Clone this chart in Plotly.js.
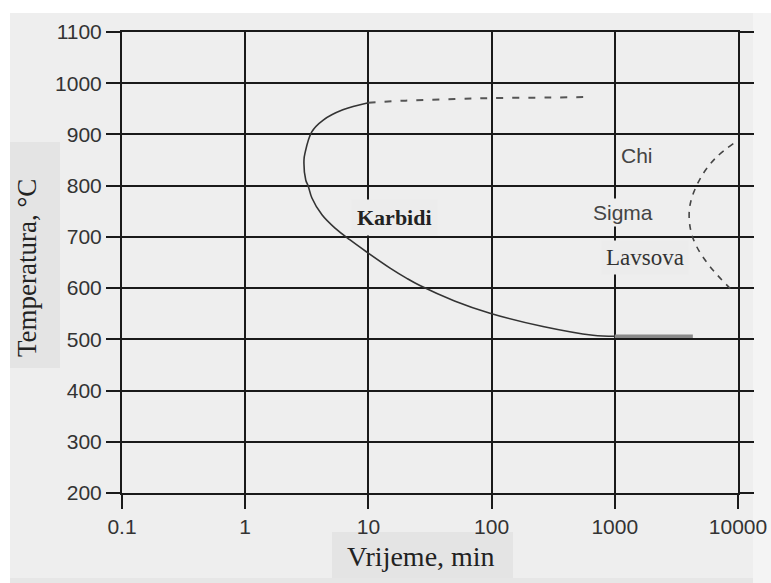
<!DOCTYPE html>
<html>
<head>
<meta charset="utf-8">
<script src="https://cdn.plot.ly/plotly-3.0.1.min.js"></script>
<style>html,body{margin:0;padding:0;background:#fff;}#chart{width:771px;height:583px;}</style>
</head>
<body>
<div id="chart"></div>
<script>
// ---- data ----
var xTickVals = [0.1, 1, 10, 100, 1000, 10000];
var xTickText = ['0.1', '1', '10', '100', '1000', '10000'];
var yTickVals = [200, 300, 400, 500, 600, 700, 800, 900, 1000, 1100];

// Carbide C-curve (solid part), time in min, temperature in °C
var carbideTime = [10, 6.2, 4.3, 3.47, 3.06, 3.0, 3.1, 3.24, 3.48, 4.2, 5.36, 7.1, 9.75, 15, 20.5, 26.2, 50, 97, 261, 665, 1000];
var carbideTemp = [962, 948, 928, 905, 864, 850, 811, 800, 776, 743, 717, 694, 670, 639, 619, 605, 575, 551, 525, 508, 506];

// Carbide upper limit (dashed)
var carbideUpperTime = [10, 20, 50, 100, 300, 600];
var carbideUpperTemp = [962, 966, 969, 971, 972, 973];

// Carbide lower limit (grey bar)
var carbideLowerTime = [1000, 4300];
var carbideLowerTemp = [506, 506];

// Intermetallic (Chi / Sigma / Laves) C-curve, dashed
var interTime = [9160, 6710, 5230, 4340, 4025, 4130, 4620, 5930, 9160];
var interTemp = [882, 856, 824, 785, 752, 713, 681, 642, 593];

// Labels
var labelText = ['Karbidi', 'Chi', 'Sigma', 'Lavsova'];
var labelTime = [16.4, 1510, 1170, 1760];
var labelTemp = [737, 858, 747, 659];

// ---- pixel helpers for layout placement (plot area 122..738 x, 32..493 y) ----
function px(x) { return (x - 122) / 616; }
function py(y) { return (493 - y) / 461; }

var traces = [
  {x: carbideTime, y: carbideTemp, mode: 'lines', line: {color: '#333', width: 1.6, shape: 'spline', smoothing: 1}, hoverinfo: 'skip'},
  {x: carbideUpperTime, y: carbideUpperTemp, mode: 'lines', line: {color: '#555', width: 2, dash: '7px,9px', shape: 'spline'}, hoverinfo: 'skip'},
  {x: carbideLowerTime, y: carbideLowerTemp, mode: 'lines', line: {color: '#8a8a8a', width: 3.5}, hoverinfo: 'skip'},
  {x: interTime, y: interTemp, mode: 'lines', line: {color: '#444', width: 1.6, dash: '6px,6px', shape: 'spline', smoothing: 1}, hoverinfo: 'skip'}
];

var serif = '"Liberation Serif", "Times New Roman", serif';
var sans = '"Liberation Sans", Arial, sans-serif';

var fonts = [
  {family: serif, size: 22, color: '#222', weight: 'bold'},
  {family: sans, size: 21, color: '#444'},
  {family: sans, size: 21, color: '#444'},
  {family: serif, size: 23, color: '#333'}
];
var bgs = ['#ececec', 'rgba(0,0,0,0)', '#eeeeee', '#ececec'];
var pads = [5, 0, 2, 4];

var annotations = labelText.map(function (t, i) {
  return {
    x: Math.log10(labelTime[i]), y: labelTemp[i], xref: 'x', yref: 'y',
    text: t, showarrow: false, font: fonts[i], bgcolor: bgs[i], borderpad: pads[i],
    xanchor: 'center', yanchor: 'middle'
  };
});

// axis titles
annotations.push({
  x: px(27), y: py(268), xref: 'paper', yref: 'paper', text: 'Temperatura, °C',
  textangle: -90, showarrow: false, font: {family: serif, size: 27, color: '#222'},
  xanchor: 'center', yanchor: 'middle'
});
annotations.push({
  x: px(421), y: py(556), xref: 'paper', yref: 'paper', text: 'Vrijeme, min',
  showarrow: false, font: {family: serif, size: 28, color: '#222'},
  xanchor: 'center', yanchor: 'middle'
});

var shapes = [
  // white strips of the scanned page
  {type: 'rect', xref: 'paper', yref: 'paper', x0: px(0), x1: px(771), y0: py(13), y1: py(0), fillcolor: '#ffffff', line: {width: 0}, layer: 'below'},
  {type: 'rect', xref: 'paper', yref: 'paper', x0: px(0), x1: px(10), y0: py(583), y1: py(0), fillcolor: '#ffffff', line: {width: 0}, layer: 'below'},
  {type: 'rect', xref: 'paper', yref: 'paper', x0: px(753), x1: px(771), y0: py(583), y1: py(13), fillcolor: '#f4f4f4', line: {width: 0}, layer: 'below'},
  {type: 'rect', xref: 'paper', yref: 'paper', x0: px(10), x1: px(753), y0: py(583), y1: py(578), fillcolor: '#e6e6e6', line: {width: 0}, layer: 'below'},
  // title boxes
  {type: 'rect', xref: 'paper', yref: 'paper', x0: px(10), x1: px(60), y0: py(368), y1: py(142), fillcolor: '#e4e4e4', line: {width: 0}, layer: 'below'},
  {type: 'rect', xref: 'paper', yref: 'paper', x0: px(332), x1: px(513), y0: py(578), y1: py(532), fillcolor: '#e4e4e4', line: {width: 0}, layer: 'below'}
];

var layout = {
  width: 771, height: 583,
  margin: {l: 122, r: 33, t: 32, b: 90, pad: 0},
  paper_bgcolor: '#eeeeee', plot_bgcolor: '#eeeeee',
  showlegend: false,
  xaxis: {
    type: 'log', range: [-1, 4], tickvals: xTickVals, ticktext: xTickText,
    showgrid: true, gridcolor: '#1a1a1a', gridwidth: 2,
    ticks: 'outside', ticklen: 14, tickwidth: 2, tickcolor: '#1a1a1a',
    showline: true, linecolor: '#1a1a1a', linewidth: 2, mirror: true,
    zeroline: false, fixedrange: true,
    tickfont: {family: sans, size: 21, color: '#333'}
  },
  yaxis: {
    range: [200, 1100], tickvals: yTickVals,
    showgrid: true, gridcolor: '#1a1a1a', gridwidth: 2,
    ticks: 'outside', ticklen: 14, tickwidth: 2, tickcolor: '#1a1a1a',
    showline: true, linecolor: '#1a1a1a', linewidth: 2, mirror: 'ticks',
    zeroline: false, fixedrange: true,
    tickfont: {family: sans, size: 21, color: '#333'}
  },
  annotations: annotations,
  shapes: shapes
};

Plotly.newPlot('chart', traces, layout, {staticPlot: true, displayModeBar: false});
</script>
</body>
</html>
